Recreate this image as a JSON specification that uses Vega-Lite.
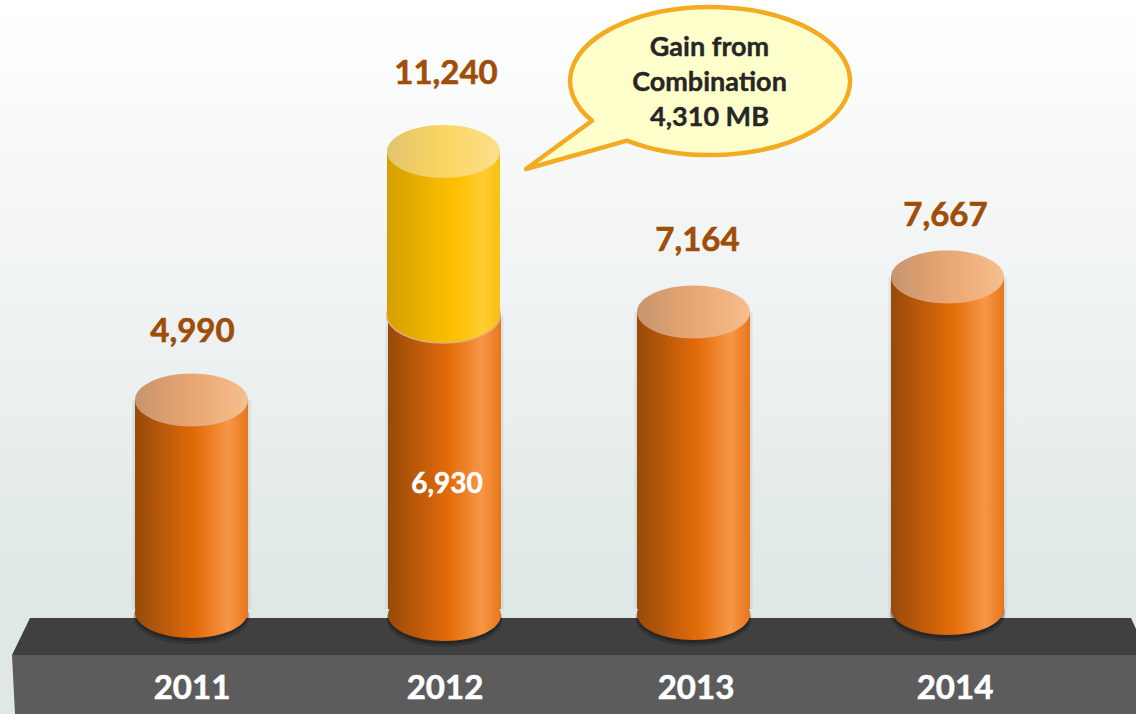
{
"$schema":"https://vega.github.io/schema/vega-lite/v6.json",
"width":1136,"height":714,"padding":0,
"autosize":{"type":"fit","contains":"padding"},
"background":"#ffffff",
"view":{"stroke":null,"fill":{"gradient":"linear","x1":0,"y1":0,"x2":0,"y2":1,"stops":[{"offset":0,"color":"#ffffff"},{"offset":0.3,"color":"#f4f6f6"},{"offset":0.85,"color":"#dfe7e7"},{"offset":1,"color":"#dfe7e7"}]}},
"data":{"values":[
{"year":2011,"series":"Base","base":0,"value":4990},
{"year":2012,"series":"Base","base":0,"value":6930},
{"year":2012,"series":"Gain","base":6930,"value":11240},
{"year":2013,"series":"Base","base":0,"value":7164},
{"year":2014,"series":"Base","base":0,"value":7667}
]},
"resolve":{"scale":{"x":"independent","y":"independent"}},
"layer":[
{"data":{"values":[{"part":"floor top"}]},"mark":{"type":"point","filled":true,"opacity":1,"size":4,"x":0,"y":0,"fill":"#404040","shape":"M30,618L1131,618L1136,629L1136,655L12,655Z"}},
{"data":{"values":[{"part":"floor front"}]},"mark":{"type":"point","filled":true,"opacity":1,"size":4,"x":0,"y":0,"fill":"#5c5c5c","shape":"M12,655L1136,655L1136,714L15,714Z"}},
{"transform":[{"filter":"datum.series=='Base'"}],
 "mark":{"type":"bar","orient":"vertical","width":118,"fill":"#5f7373","opacity":0.12},
 "encoding":{"x":{"field":"year","type":"quantitative","axis":null,"scale":{"padding":0,"domain":[2011,2012,2013,2014],"range":[191.5,444.5,693.5,947.5]}},
 "y":{"field":"value","type":"quantitative","stack":null,"axis":null,"scale":{"domain":[0,4990,6930,7164,7667,11240],"range":[609,400,315,312,277,151.5]}},"y2":{"field":"base"}}},
{"transform":[{"filter":"datum.series=='Base'"}],
 "mark":{"type":"point","filled":true,"opacity":0.18,"size":4,"yOffset":5,"fill":"#000000","shape":"M-58,0A58,27 0 1,1 58,0A58,27 0 1,1 -58,0Z"},
 "encoding":{"x":{"field":"year","type":"quantitative","axis":null,"scale":{"domain":[2011,2012,2013,2014],"range":[191.5,444.5,693.5,947.5]}},
 "y":{"field":"year","type":"quantitative","axis":null,"scale":{"domain":[2011,2012,2013,2014],"range":[612,615,614,609]}}}},
{"transform":[{"filter":"datum.series=='Base'"}],
 "mark":{"type":"point","filled":true,"opacity":0.25,"size":4,"yOffset":2.5,"fill":"#000000","shape":"M-57,0A57,26.5 0 1,1 57,0A57,26.5 0 1,1 -57,0Z"},
 "encoding":{"x":{"field":"year","type":"quantitative","axis":null,"scale":{"domain":[2011,2012,2013,2014],"range":[191.5,444.5,693.5,947.5]}},
 "y":{"field":"year","type":"quantitative","axis":null,"scale":{"domain":[2011,2012,2013,2014],"range":[612,615,614,609]}}}},
{"transform":[{"filter":"datum.series=='Base'"}],
 "mark":{"type":"bar","orient":"vertical","width":113,"fill":{"gradient":"linear","x1":0,"y1":0,"x2":1,"y2":0,"stops":[{"offset":0,"color":"#964a08"},{"offset":0.3,"color":"#c25c0a"},{"offset":0.54,"color":"#e36c09"},{"offset":0.83,"color":"#f79646"},{"offset":1,"color":"#e8761a"}]}},
 "encoding":{"x":{"field":"year","type":"quantitative","axis":null,"scale":{"padding":0,"domain":[2011,2012,2013,2014],"range":[191.5,444.5,693.5,947.5]}},
 "y":{"field":"value","type":"quantitative","stack":null,"axis":null,"scale":{"domain":[0,4990,6930,7164,7667,11240],"range":[609,400,315,312,277,151.5]}},"y2":{"field":"base"}}},
{"transform":[{"filter":"datum.series=='Base'"}],
 "mark":{"type":"point","filled":true,"opacity":1,"size":4,"fill":{"gradient":"linear","x1":0,"y1":0,"x2":1,"y2":0,"stops":[{"offset":0,"color":"#964a08"},{"offset":0.3,"color":"#c25c0a"},{"offset":0.54,"color":"#e36c09"},{"offset":0.83,"color":"#f79646"},{"offset":1,"color":"#e8761a"}]},"shape":"M-56.5,0A56.5,26 0 1,1 56.5,0A56.5,26 0 1,1 -56.5,0Z"},
 "encoding":{"x":{"field":"year","type":"quantitative","axis":null,"scale":{"domain":[2011,2012,2013,2014],"range":[191.5,444.5,693.5,947.5]}},
 "y":{"field":"year","type":"quantitative","axis":null,"scale":{"domain":[2011,2012,2013,2014],"range":[612,615,614,609]}}}},
{"transform":[{"filter":"datum.series=='Base'"}],
 "mark":{"type":"point","filled":true,"opacity":1,"size":4,"fill":{"gradient":"linear","x1":0,"y1":0,"x2":1,"y2":0,"stops":[{"offset":0,"color":"#c7956e"},{"offset":0.5,"color":"#e8a672"},{"offset":1,"color":"#f6bf8e"}]},"shape":"M-56.5,0A56.5,26.5 0 1,1 56.5,0A56.5,26.5 0 1,1 -56.5,0Z"},
 "encoding":{"x":{"field":"year","type":"quantitative","axis":null,"scale":{"domain":[2011,2012,2013,2014],"range":[191.5,444.5,693.5,947.5]}},
 "y":{"field":"value","type":"quantitative","axis":null,"stack":null,"scale":{"domain":[0,4990,6930,7164,7667,11240],"range":[609,400,315,312,277,151.5]}}}},
{"transform":[{"filter":"datum.series=='Gain'"}],
 "mark":{"type":"point","filled":true,"opacity":1,"size":4,"xOffset":-1,"stroke":"#e3ab7c","strokeWidth":1.5,"fill":{"gradient":"linear","x1":0,"y1":0,"x2":1,"y2":0,"stops":[{"offset":0,"color":"#d4a000"},{"offset":0.6,"color":"#ffc000"},{"offset":0.85,"color":"#ffcc33"},{"offset":1,"color":"#f9c010"}]},"shape":"M-56.5,0A56.5,28 0 1,1 56.5,0A56.5,28 0 1,1 -56.5,0Z"},
 "encoding":{"x":{"field":"year","type":"quantitative","axis":null,"scale":{"domain":[2011,2012,2013,2014],"range":[191.5,444.5,693.5,947.5]}},
 "y":{"field":"base","type":"quantitative","axis":null,"scale":{"domain":[0,4990,6930,7164,7667,11240],"range":[609,400,315,312,277,151.5]}}}},
{"transform":[{"filter":"datum.series=='Gain'"}],
 "mark":{"type":"bar","orient":"vertical","width":113,"xOffset":-1,"fill":{"gradient":"linear","x1":0,"y1":0,"x2":1,"y2":0,"stops":[{"offset":0,"color":"#d4a000"},{"offset":0.6,"color":"#ffc000"},{"offset":0.85,"color":"#ffcc33"},{"offset":1,"color":"#f9c010"}]}},
 "encoding":{"x":{"field":"year","type":"quantitative","axis":null,"scale":{"padding":0,"domain":[2011,2012,2013,2014],"range":[191.5,444.5,693.5,947.5]}},
 "y":{"field":"value","type":"quantitative","stack":null,"axis":null,"scale":{"domain":[0,4990,6930,7164,7667,11240],"range":[609,400,315,312,277,151.5]}},"y2":{"field":"base"}}},
{"transform":[{"filter":"datum.series=='Gain'"}],
 "mark":{"type":"point","filled":true,"opacity":1,"size":4,"xOffset":-1,"fill":{"gradient":"linear","x1":0,"y1":0,"x2":1,"y2":0,"stops":[{"offset":0,"color":"#e2c46c"},{"offset":0.5,"color":"#fad561"},{"offset":1,"color":"#fbe08c"}]},"shape":"M-56.5,0A56.5,26.5 0 1,1 56.5,0A56.5,26.5 0 1,1 -56.5,0Z"},
 "encoding":{"x":{"field":"year","type":"quantitative","axis":null,"scale":{"domain":[2011,2012,2013,2014],"range":[191.5,444.5,693.5,947.5]}},
 "y":{"field":"value","type":"quantitative","axis":null,"stack":null,"scale":{"domain":[0,4990,6930,7164,7667,11240],"range":[609,400,315,312,277,151.5]}}}},
{"transform":[{"filter":"datum.series=='Gain'"}],
 "mark":{"type":"point","filled":true,"opacity":1,"size":4,"xOffset":265.5,"yOffset":-70.5,"fill":"#ffffcc","stroke":"#f3ab22","strokeWidth":4.5,"strokeJoin":"round","shape":"M-118,39.8L-184,88L-83,59.6A140,74 0 1,0 -118,39.8Z"},
 "encoding":{"x":{"field":"year","type":"quantitative","axis":null,"scale":{"domain":[2011,2012,2013,2014],"range":[191.5,444.5,693.5,947.5]}},
 "y":{"field":"value","type":"quantitative","axis":null,"stack":null,"scale":{"domain":[0,4990,6930,7164,7667,11240],"range":[609,400,315,312,277,151.5]}}}},
{"data":{"values":[{"year":2012,"value":11240,"note":["Gain from","Combination","4,310 MB"]}]},
 "mark":{"type":"text","font":"Lato","fontWeight":"bold","fontSize":27,"lineHeight":35,"align":"center","baseline":"middle","color":"#262626","stroke":"#262626","strokeWidth":0.4,"xOffset":265,"yOffset":-104},
 "encoding":{"x":{"field":"year","type":"quantitative","axis":null,"scale":{"domain":[2011,2012,2013,2014],"range":[191.5,444.5,693.5,947.5]}},
 "y":{"field":"value","type":"quantitative","axis":null,"stack":null,"scale":{"domain":[0,4990,6930,7164,7667,11240],"range":[609,400,315,312,277,151.5]}},
 "text":{"field":"note"}}},
{"transform":[{"filter":"datum.series=='Gain' || datum.year!=2012"}],
 "mark":{"type":"text","font":"Lato","fontWeight":"bold","fontSize":33,"align":"center","baseline":"middle","color":"#a04d08","stroke":"#a04d08","strokeWidth":0.6},
 "encoding":{"x":{"field":"year","type":"quantitative","axis":null,"scale":{"domain":[2011,2012,2013,2014],"range":[192.5,446,697.5,945.5]}},
 "y":{"field":"value","type":"quantitative","axis":null,"stack":null,"scale":{"domain":[4990,7164,7667,11240],"range":[332,241,216,74]}},
 "text":{"field":"value","format":",d"}}},
{"transform":[{"filter":"datum.series=='Base' && datum.year==2012"}],
 "mark":{"type":"text","font":"Lato","fontWeight":"bold","fontSize":28,"align":"center","baseline":"middle","color":"#ffffff","stroke":"#ffffff","strokeWidth":0.5},
 "encoding":{"x":{"field":"year","type":"quantitative","axis":null,"scale":{"domain":[2011,2012,2013,2014],"range":[192.5,447,697.5,945.5]}},
 "y":{"field":"value","type":"quantitative","axis":null,"stack":null,"scale":{"domain":[6930,6931],"range":[485,484]}},
 "text":{"field":"value","format":",d"}}},
{"transform":[{"filter":"datum.series=='Base'"}],
 "mark":{"type":"text","font":"Lato","fontWeight":"bold","fontSize":33,"align":"center","baseline":"middle","color":"#ffffff","stroke":"#ffffff","strokeWidth":0.6,"y":689},
 "encoding":{"x":{"field":"year","type":"quantitative","axis":null,"scale":{"domain":[2011,2012,2013,2014],"range":[192,445,696,955]}},
 "text":{"field":"year","type":"nominal"}}}
]
}
